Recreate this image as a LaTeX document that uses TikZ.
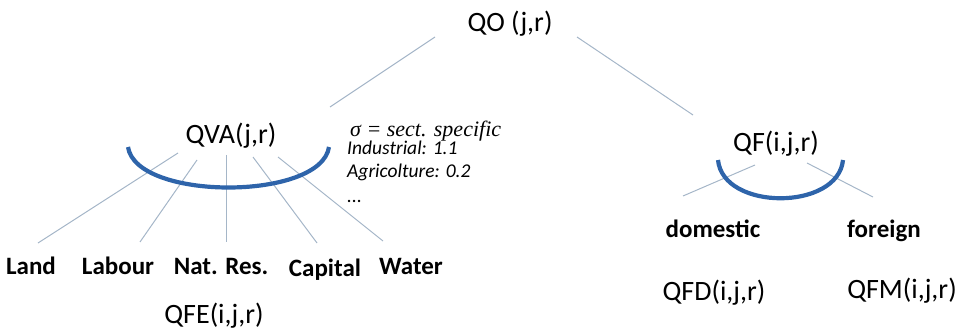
\documentclass[tikz,border=0pt]{standalone}
\usepackage{fontspec}
\setmainfont{Carlito}
\newfontfamily\sigfont{Liberation Serif}
\definecolor{branchcol}{RGB}{165,182,200}
\definecolor{nestcol}{RGB}{46,100,170}
\begin{document}
\begin{tikzpicture}[x=1pt,y=-1pt,
  lbl/.style={font=\fontsize{28}{30}\selectfont, anchor=base, inner sep=0pt},
  blbl/.style={font=\fontsize{25}{27}\selectfont\bfseries, anchor=base, inner sep=0pt},
  note/.style={font=\fontsize{19.5}{21}\selectfont\itshape, anchor=base west, inner sep=0pt},
  branch/.style={draw=branchcol, line width=1pt},
  nest/.style={draw=nestcol, line width=4.2pt}]
\useasboundingbox (0,0) rectangle (964,334);
% labels
\node[lbl] (qo) at (510,32) {QO (j,r)};
\node[lbl] (qva) at (231,143) {QVA(j,r)};
\node[lbl] (qf) at (776,152) {QF(i,j,r)};
\node[blbl] (land) at (31,274) {Land};
\node[blbl] (labour) at (118,274) {Labour};
\node[blbl] (natres) at (221,274) {Nat. Res.};
\node[blbl] (capital) at (325,276) {Capital};
\node[blbl] (water) at (411,274) {Water};
\node[lbl] (qfe) at (214,323) {QFE(i,j,r)};
\node[blbl] (dom) at (713,237) {domestic};
\node[blbl] (for) at (884,237) {foreign};
\node[lbl] (qfd) at (714,300) {QFD(i,j,r)};
\node[lbl] (qfm) at (902,298) {QFM(i,j,r)};
% sigma note
\node[anchor=base west, inner sep=0pt, font=\fontsize{22}{24}\selectfont\sigfont\itshape] (sig) at (350,137) {σ = sect. specific};
\node[note] (ind) at (347,155) {Industrial: 1.1};
\node[note] (agr) at (347,178) {Agricolture: 0.2};
\node[note] (dots) at (347,202) {...};
% coordinates for branch ends
\coordinate (qoL) at (435,37);
\coordinate (qoR) at (577,37);
\coordinate (qvaT) at (330,107);
\coordinate (qfT) at (693,115);
\coordinate (v1) at (178,153); \coordinate (e1) at (38,243);
\coordinate (v2) at (197,160); \coordinate (e2) at (140,242);
\coordinate (v3) at (226,155); \coordinate (e3) at (226,242);
\coordinate (v4) at (253,157); \coordinate (e4) at (317,243);
\coordinate (v5) at (278,157); \coordinate (e5) at (383,241);
\coordinate (f1) at (755,165); \coordinate (d1) at (683,196);
\coordinate (f2) at (807,163); \coordinate (d2) at (873,197);
\coordinate (a1) at (128,147); \coordinate (a2) at (329,147);
\coordinate (b1) at (718,160); \coordinate (b2) at (843,160);
% branches
\draw[branch] (qoL) -- (qvaT);
\draw[branch] (qoR) -- (qfT);
\draw[branch] (v1) -- (e1);
\draw[branch] (v2) -- (e2);
\draw[branch] (v3) -- (e3);
\draw[branch] (v4) -- (e4);
\draw[branch] (v5) -- (e5);
\draw[branch] (f1) -- (d1);
\draw[branch] (f2) -- (d2);
% nests
\draw[nest] (a1) .. controls (136,201) and (321,201) .. (a2);
\draw[nest] (b1) .. controls (723,211) and (838,211) .. (b2);
\end{tikzpicture}
\end{document}
